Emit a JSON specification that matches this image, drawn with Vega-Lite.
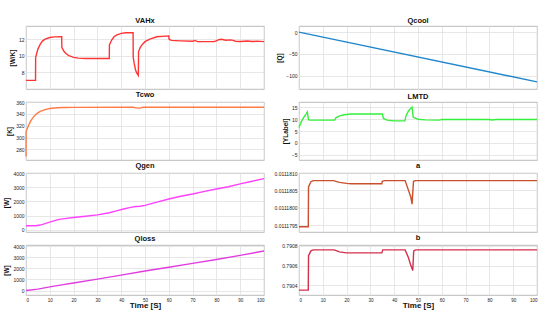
{
  "$schema": "https://vega.github.io/schema/vega-lite/v6.json",
  "background": "white",
  "padding": {"left": 3, "top": 16, "right": 10, "bottom": 4},
  "config": {
    "font": "Liberation Sans",
    "view": {"stroke": "#a8a8a8", "strokeWidth": 0.8},
    "axis": {"labelFontSize": 5, "labelColor": "#222", "titleFontSize": 6.5, "titleFontWeight": "bold", "titleColor": "#111", "titlePadding": 3, "labelPadding": 2, "ticks": false, "domain": false, "gridColor": "#dcdcdc", "gridWidth": 0.7},
    "title": {"fontSize": 7.5, "fontWeight": "bold", "color": "#111", "offset": 2, "anchor": "middle"},
    "line": {"strokeWidth": 1.4, "clip": true, "interpolate": "linear"}
  },
  "datasets": {
    "vahx": [
      {"t":0,"v":7},{"t":4,"v":7},{"t":4.05,"v":9.8},{"t":5,"v":10.8},{"t":6,"v":11.4},{"t":7,"v":11.8},{"t":8,"v":12.0},{"t":10,"v":12.2},{"t":12,"v":12.28},{"t":15,"v":12.3},
      {"t":15.05,"v":11.0},{"t":16,"v":10.5},{"t":17,"v":10.2},{"t":18,"v":10.0},{"t":20,"v":9.8},{"t":22,"v":9.7},{"t":25,"v":9.65},{"t":35,"v":9.65},
      {"t":35.05,"v":11.3},{"t":36,"v":11.9},{"t":37,"v":12.3},{"t":38,"v":12.5},{"t":40,"v":12.7},{"t":42,"v":12.78},{"t":45,"v":12.8},
      {"t":45.05,"v":9.8},{"t":45.5,"v":9.0},{"t":46,"v":8.3},{"t":46.5,"v":7.9},{"t":47.2,"v":7.6},{"t":47.3,"v":10.5},{"t":48,"v":11.0},{"t":49,"v":11.4},{"t":50,"v":11.7},{"t":52,"v":12.0},{"t":55,"v":12.3},{"t":60,"v":12.4},
      {"t":60.1,"v":12.0},{"t":61,"v":11.85},{"t":65,"v":11.8},{"t":70,"v":11.75},{"t":71,"v":11.85},{"t":72,"v":11.7},{"t":79,"v":11.72},{"t":80,"v":11.8},{"t":81,"v":11.95},{"t":82,"v":12.0},{"t":84,"v":11.88},{"t":86,"v":11.92},{"t":87,"v":11.85},{"t":88,"v":11.75},{"t":90,"v":11.72},{"t":93,"v":11.78},{"t":95,"v":11.72},{"t":97,"v":11.76},{"t":100,"v":11.7}
    ],
    "qcool": [{"t":0,"v":0},{"t":100,"v":-114.5}],
    "tcwo": [
      {"t":0,"v":268},{"t":0.05,"v":310},{"t":1,"v":320},{"t":2,"v":328},{"t":3,"v":334},{"t":4,"v":338.5},{"t":5,"v":341.5},{"t":6,"v":344},{"t":8,"v":347},{"t":10,"v":349},{"t":13,"v":350.3},{"t":16,"v":350.8},{"t":20,"v":351},{"t":45,"v":351.2},{"t":46,"v":350.2},{"t":48,"v":349.6},{"t":49,"v":351.1},{"t":100,"v":351.2}
    ],
    "lmtd": [
      {"t":0,"v":6.5},{"t":1,"v":9},{"t":2,"v":10.8},{"t":3,"v":12.3},{"t":3.5,"v":13.1},{"t":4,"v":9.7},{"t":5,"v":9.6},{"t":15,"v":9.6},{"t":15.5,"v":10.6},{"t":17,"v":11.4},{"t":19,"v":11.9},{"t":22,"v":12.2},{"t":35,"v":12.2},
      {"t":35.5,"v":10.3},{"t":37,"v":9.6},{"t":40,"v":9.3},{"t":44.5,"v":9.3},{"t":45,"v":11.5},{"t":46,"v":13.5},{"t":47,"v":14.7},{"t":47.5,"v":15.1},{"t":48,"v":10.8},{"t":50,"v":10.0},{"t":53,"v":9.7},{"t":59,"v":9.6},{"t":60,"v":9.9},{"t":80,"v":9.9},{"t":81,"v":9.7},{"t":83,"v":9.9},{"t":100,"v":9.9}
    ],
    "qgen": [
      {"t":0,"v":280},{"t":4,"v":280},{"t":6,"v":330},{"t":8,"v":430},{"t":10,"v":540},{"t":12,"v":640},{"t":14,"v":730},{"t":17,"v":800},{"t":20,"v":860},{"t":25,"v":950},{"t":30,"v":1050},{"t":35,"v":1200},{"t":38,"v":1330},{"t":41,"v":1460},{"t":44,"v":1580},{"t":46,"v":1640},{"t":48,"v":1660},{"t":50,"v":1720},{"t":55,"v":1950},{"t":60,"v":2170},{"t":65,"v":2360},{"t":70,"v":2520},{"t":75,"v":2700},{"t":80,"v":2870},{"t":85,"v":3030},{"t":90,"v":3230},{"t":95,"v":3420},{"t":100,"v":3600}
    ],
    "qloss": [
      {"t":0,"v":0},{"t":5,"v":130},{"t":10,"v":330},{"t":15,"v":510},{"t":20,"v":680},{"t":30,"v":1030},{"t":40,"v":1390},{"t":50,"v":1760},{"t":60,"v":2100},{"t":70,"v":2450},{"t":80,"v":2800},{"t":90,"v":3170},{"t":100,"v":3560}
    ],
    "a": [
      {"t":0,"v":0.01117945},{"t":3.9,"v":0.01117945},{"t":4.0,"v":0.0111806},{"t":5,"v":0.01118075},{"t":6,"v":0.01118078},{"t":14.5,"v":0.01118078},{"t":17,"v":0.01118073},{"t":20,"v":0.0111807},{"t":22,"v":0.01118069},{"t":34.8,"v":0.01118069},{"t":35,"v":0.01118076},{"t":36,"v":0.01118078},{"t":44.6,"v":0.01118078},{"t":46,"v":0.0111805},{"t":47,"v":0.0111803},{"t":47.5,"v":0.0111801},{"t":48.1,"v":0.01118076},{"t":49,"v":0.01118078},{"t":100,"v":0.01118078}
    ],
    "b": [
      {"t":0,"v":0.79035},{"t":3.9,"v":0.79035},{"t":4.0,"v":0.7907},{"t":5,"v":0.79075},{"t":6,"v":0.79076},{"t":14.8,"v":0.79076},{"t":17,"v":0.79074},{"t":20,"v":0.79073},{"t":34.8,"v":0.79073},{"t":35.2,"v":0.79076},{"t":44.6,"v":0.79076},{"t":46,"v":0.79068},{"t":47,"v":0.7906},{"t":47.8,"v":0.79055},{"t":48.2,"v":0.79075},{"t":49,"v":0.79076},{"t":100,"v":0.79076}
    ]
  },
  "columns": 2,
  "align": "each",
  "spacing": {"row": 0, "column": 5},
  "concat": [
    {
      "title": "VAHx", "width": 238, "height": 63,
      "data": {"name": "vahx"},
      "mark": {"type": "line", "color": "#ff3535"},
      "encoding": {
        "x": {"field": "t", "type": "quantitative", "scale": {"domain": [0, 100], "nice": false}, "axis": {"values": [0,10,20,30,40,50,60,70,80,90,100], "labels": false, "title": null}},
        "y": {"field": "v", "type": "quantitative", "scale": {"domain": [5.96, 13.6], "nice": false, "zero": false}, "axis": {"values": [8, 10, 12], "title": "[W/K]"}}
      }
    },
    {
      "title": "Qcool", "width": 238, "height": 63,
      "data": {"name": "qcool"},
      "mark": {"type": "line", "color": "#1f86cc"},
      "encoding": {
        "x": {"field": "t", "type": "quantitative", "scale": {"domain": [0, 100], "nice": false}, "axis": {"values": [0,10,20,30,40,50,60,70,80,90,100], "labels": false, "title": null}},
        "y": {"field": "v", "type": "quantitative", "scale": {"domain": [-131, 14], "nice": false, "zero": false}, "axis": {"values": [-100, -50, 0], "title": "[Q]"}}
      }
    },
    {
      "title": "Tcwo", "width": 238, "height": 58,
      "data": {"name": "tcwo"},
      "mark": {"type": "line", "color": "#ff7a45"},
      "encoding": {
        "x": {"field": "t", "type": "quantitative", "scale": {"domain": [0, 100], "nice": false}, "axis": {"values": [0,10,20,30,40,50,60,70,80,90,100], "labels": false, "title": null}},
        "y": {"field": "v", "type": "quantitative", "scale": {"domain": [262, 360], "nice": false, "zero": false}, "axis": {"values": [280, 300, 320, 340, 360], "title": "[K]"}}
      }
    },
    {
      "title": "LMTD", "width": 238, "height": 58,
      "data": {"name": "lmtd"},
      "mark": {"type": "line", "color": "#33f03a"},
      "encoding": {
        "x": {"field": "t", "type": "quantitative", "scale": {"domain": [0, 100], "nice": false}, "axis": {"values": [0,10,20,30,40,50,60,70,80,90,100], "labels": false, "title": null}},
        "y": {"field": "v", "type": "quantitative", "scale": {"domain": [-7.3, 17.3], "nice": false, "zero": false}, "axis": {"values": [-5, 0, 5, 10, 15], "title": "[YLabel]"}}
      }
    },
    {
      "title": "Qgen", "width": 238, "height": 59,
      "data": {"name": "qgen"},
      "mark": {"type": "line", "color": "#ff40ff"},
      "encoding": {
        "x": {"field": "t", "type": "quantitative", "scale": {"domain": [0, 100], "nice": false}, "axis": {"values": [0,10,20,30,40,50,60,70,80,90,100], "labels": false, "title": null}},
        "y": {"field": "v", "type": "quantitative", "scale": {"domain": [-160, 4000], "nice": false, "zero": false}, "axis": {"values": [0, 1000, 2000, 3000, 4000], "format": "d", "title": "[W]"}}
      }
    },
    {
      "title": "a", "width": 238, "height": 59,
      "data": {"name": "a"},
      "mark": {"type": "line", "color": "#c9502c"},
      "encoding": {
        "x": {"field": "t", "type": "quantitative", "scale": {"domain": [0, 100], "nice": false}, "axis": {"values": [0,10,20,30,40,50,60,70,80,90,100], "labels": false, "title": null}},
        "y": {"field": "v", "type": "quantitative", "scale": {"domain": [0.0111793, 0.011181], "nice": false, "zero": false}, "axis": {"values": [0.0111795, 0.01118, 0.0111805, 0.011181], "format": ".7f", "title": null}}
      }
    },
    {
      "title": "Qloss", "width": 238, "height": 50,
      "data": {"name": "qloss"},
      "mark": {"type": "line", "color": "#e03ce0"},
      "encoding": {
        "x": {"field": "t", "type": "quantitative", "scale": {"domain": [0, 100], "nice": false}, "axis": {"values": [0,10,20,30,40,50,60,70,80,90,100], "title": "Time [S]", "titleFontSize": 8, "labelFontSize": 4.5, "labelPadding": 2, "titlePadding": 0}},
        "y": {"field": "v", "type": "quantitative", "scale": {"domain": [-400, 4100], "nice": false, "zero": false}, "axis": {"values": [0, 1000, 2000, 3000, 4000], "format": "d", "title": "[W]"}}
      }
    },
    {
      "title": "b", "width": 238, "height": 50,
      "data": {"name": "b"},
      "mark": {"type": "line", "color": "#d3304c"},
      "encoding": {
        "x": {"field": "t", "type": "quantitative", "scale": {"domain": [0, 100], "nice": false}, "axis": {"values": [0,10,20,30,40,50,60,70,80,90,100], "title": "Time [S]", "titleFontSize": 8, "labelFontSize": 4.5, "labelPadding": 2, "titlePadding": 0}},
        "y": {"field": "v", "type": "quantitative", "scale": {"domain": [0.7903, 0.79081], "nice": false, "zero": false}, "axis": {"values": [0.7904, 0.7906, 0.7908], "format": ".4f", "title": null}}
      }
    }
  ]
}
